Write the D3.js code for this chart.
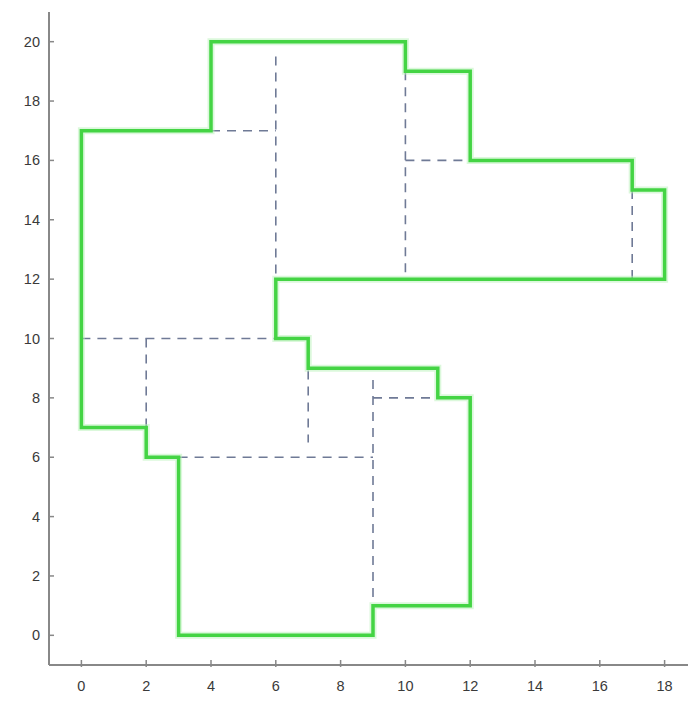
<!DOCTYPE html>
<html><head><meta charset="utf-8">
<script src="https://cdn.jsdelivr.net/npm/d3@7"></script>
<style>body{margin:0;background:#fff;}svg{display:block;}</style>
</head><body>
<script>
const outlineX = [0,4,4,10,10,12,12,17,17,18,18,6,6,7,7,11,11,12,12,9,9,3,3,2,2,0,0];
const outlineY = [17,17,20,20,19,19,16,16,15,15,12,12,10,10,9,9,8,8,1,1,0,0,6,6,7,7,17];
// dashed partition segments: [x1,y1,x2,y2]
const dashSegs = [
  [4,17,6,17],[6,19.5,6,12],[10,19,10,12],[10,16,12,16],[17,15,17,12],
  [0,10,6,10],[2,10,2,7],[7,10,7,6.5],[3,6,9,6],[9,8.6,9,1],[9,8,11,8]
];
const xTicks = [0,2,4,6,8,10,12,14,16,18];
const yTicks = [0,2,4,6,8,10,12,14,16,18,20];

const W=688,H=704;
const svg=d3.select("body").append("svg").attr("width",W).attr("height",H);
const x=d3.scaleLinear().domain([-1,19]).range([49,697]);
const y=d3.scaleLinear().domain([-1,21]).range([665,12]);

const ax=svg.append("g").attr("font-family","Liberation Sans, Arial, sans-serif").attr("font-size",14.5).attr("fill","#3a3a3a");
// spines
ax.append("line").attr("x1",x(-1)).attr("x2",x(-1)).attr("y1",y(21)).attr("y2",y(-1)).attr("stroke","#888").attr("stroke-width",2);
ax.append("line").attr("x1",x(-1)).attr("x2",W).attr("y1",y(-1)).attr("y2",y(-1)).attr("stroke","#888").attr("stroke-width",2);
xTicks.forEach(t=>{
  ax.append("line").attr("x1",x(t)).attr("x2",x(t)).attr("y1",y(-1)+2).attr("y2",y(-1)-5).attr("stroke","#888").attr("stroke-width",1.5);
  ax.append("text").attr("x",x(t)).attr("y",y(-1)+26).attr("text-anchor","middle").text(t);
});
yTicks.forEach(t=>{
  ax.append("line").attr("x1",x(-1)).attr("x2",x(-1)+5).attr("y1",y(t)).attr("y2",y(t)).attr("stroke","#888").attr("stroke-width",1.5);
  ax.append("text").attr("x",x(-1)-9).attr("y",y(t)).attr("dy","0.35em").attr("text-anchor","end").text(t);
});

svg.append("g").selectAll("line").data(dashSegs).join("line")
  .attr("x1",d=>x(d[0])).attr("y1",d=>y(d[1])).attr("x2",d=>x(d[2])).attr("y2",d=>y(d[3]))
  .attr("stroke","#6f7a96").attr("stroke-width",1.6).attr("stroke-dasharray","9,7");

const pts=outlineX.map((v,i)=>[v,outlineY[i]]);
const line=d3.line().x(d=>x(d[0])).y(d=>y(d[1]));
svg.append("path").attr("d",line(pts)+"Z").attr("fill","none")
  .attr("stroke","#b8f2b8").attr("stroke-width",7).attr("stroke-linejoin","miter").attr("opacity",0.5);
svg.append("path").attr("d",line(pts)+"Z").attr("fill","none")
  .attr("stroke","#44d444").attr("stroke-width",3.5).attr("stroke-linejoin","miter");
</script>
</body></html>
